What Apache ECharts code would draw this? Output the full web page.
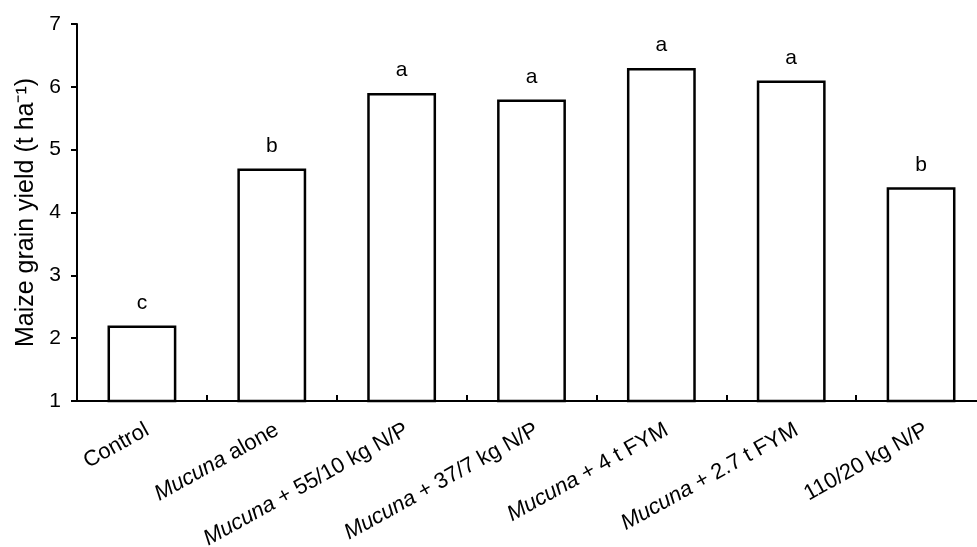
<!DOCTYPE html>
<html>
<head>
<meta charset="utf-8">
<script src="https://cdn.jsdelivr.net/npm/echarts@6/dist/echarts.min.js"></script>
<style>
html,body{margin:0;padding:0;background:#fff;}
#c{width:977px;height:547px;}
</style>
</head>
<body>
<div id="c"></div>
<script>
var categories = ['Control', 'Mucuna alone', 'Mucuna + 55/10 kg N/P', 'Mucuna + 37/7 kg N/P', 'Mucuna + 4 t FYM', 'Mucuna + 2.7 t FYM', '110/20 kg N/P'];
var yieldValues = [2.2, 4.7, 5.9, 5.8, 6.3, 6.1, 4.4];
var letters = ['c', 'b', 'a', 'a', 'a', 'a', 'b'];
var yTicks = [1, 2, 3, 4, 5, 6, 7];

var font = 'Liberation Sans, Arial, sans-serif';
var chart = echarts.init(document.getElementById('c'), null, {renderer: 'canvas'});
chart.setOption({
  backgroundColor: '#fff',
  animation: false,
  grid: {left: 77, top: 24, width: 909, height: 377, containLabel: false, outerBoundsMode: 'none'},
  xAxis: {
    type: 'category',
    data: categories,
    boundaryGap: true,
    axisLine: {show: true, lineStyle: {color: '#000', width: 2}},
    axisTick: {show: true, inside: true, length: 6, alignWithLabel: false, lineStyle: {color: '#000', width: 2}},
    axisLabel: {
      rotate: 29,
      interval: 0,
      margin: 18,
      verticalAlign: 'top',
      color: '#000',
      fontFamily: font,
      fontSize: 22,
      formatter: function (v) {
        if (v.indexOf('Mucuna') === 0) {
          return '{i|Mucuna}{n|' + v.slice(6) + '}';
        }
        return '{n|' + v + '}';
      },
      rich: {
        i: {fontStyle: 'italic', fontFamily: font, fontSize: 22, color: '#000'},
        n: {fontFamily: font, fontSize: 22, color: '#000'}
      }
    },
    splitLine: {show: false}
  },
  yAxis: {
    type: 'value',
    min: yTicks[0],
    max: yTicks[yTicks.length - 1],
    interval: 1,
    name: 'Maize grain yield (t ha\u207B\u00B9)',
    nameLocation: 'middle',
    nameGap: 38,
    nameTextStyle: {color: '#000', fontFamily: font, fontSize: 25},
    axisLine: {show: true, lineStyle: {color: '#000', width: 2}},
    axisTick: {show: true, inside: false, length: 6, lineStyle: {color: '#000', width: 2}},
    axisLabel: {color: '#000', fontFamily: font, fontSize: 21, margin: 16},
    splitLine: {show: false}
  },
  series: [{
    type: 'bar',
    data: yieldValues,
    barWidth: '53%',
    itemStyle: {color: '#fff', borderColor: '#000', borderWidth: 2.5},
    label: {
      show: true,
      position: 'top',
      distance: 12,
      color: '#000',
      fontFamily: font,
      fontSize: 21,
      formatter: function (p) { return letters[p.dataIndex]; }
    }
  }]
});
</script>
</body>
</html>
